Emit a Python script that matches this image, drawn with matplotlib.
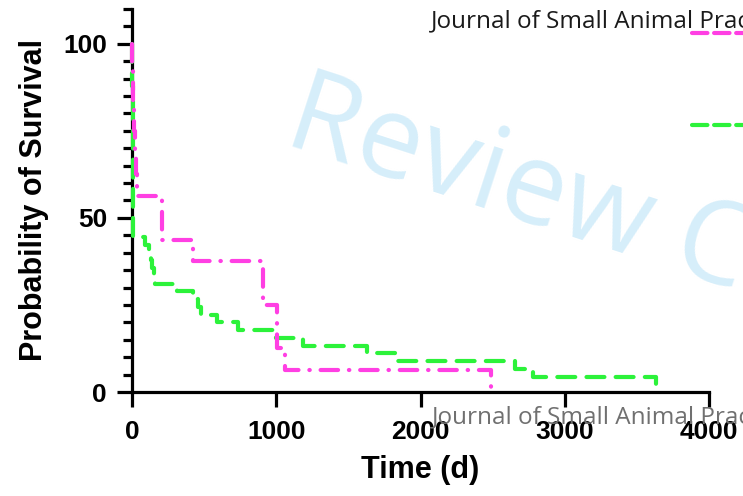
import matplotlib
matplotlib.use("Agg")
import matplotlib.pyplot as plt
from matplotlib.lines import Line2D
from matplotlib.ticker import MultipleLocator

plt.rcParams['font.family'] = ['Liberation Sans', 'DejaVu Sans']

# survival curves (time in days, survival in %)
magenta_t = [0, 3, 6, 10, 15, 20, 27, 35, 210, 425, 910, 1005, 1060, 2486]
magenta_s = [100, 93.75, 87.5, 81.25, 75, 68.75, 62.5, 56.25, 43.75, 37.5, 25, 12.5, 6.25, 0]

green_t = [0, 2, 4, 6, 8, 10, 90, 115, 130, 140, 150, 160, 310, 420, 460, 480,
           590, 735, 1000, 1185, 1630, 1820, 2655, 2780, 3636]
green_s = [100, 88, 76, 64, 52, 44.4, 42.2, 40.0, 37.8, 35.6, 33.3, 31.1, 28.9, 26.7,
           24.4, 22.2, 20.0, 17.8, 15.6, 13.3, 11.1, 8.9, 6.7, 4.4, 0]

x_ticks = [0, 1000, 2000, 3000, 4000]
y_ticks = [0, 50, 100]

MAGENTA = '#FF3FE3'
GREEN = '#2CF23A'
dashdot = (0, (4.2, 2.6, 0.1, 2.6))
dashed = (0, (4.3, 2.7))

fig = plt.figure(figsize=(7.43, 4.96), dpi=100)
ax = fig.add_axes([132 / 743, 1 - 392 / 496, (709 - 132) / 743, (392 - 9) / 496])

g, = ax.step(green_t, green_s, where='post', color=GREEN, lw=3, linestyle=dashed,
             dash_capstyle='round', solid_capstyle='round', clip_on=False, zorder=4)
m, = ax.step(magenta_t, magenta_s, where='post', color=MAGENTA, lw=3, linestyle=dashdot,
             dash_capstyle='round', solid_capstyle='round', clip_on=False, zorder=5)

ax.set_xlim(0, 4000)
ax.set_ylim(0, 110)
ax.set_xticks(x_ticks)
ax.set_yticks(y_ticks)
ax.yaxis.set_minor_locator(MultipleLocator(5))

for side in ['top', 'right']:
    ax.spines[side].set_visible(False)
for side in ['left', 'bottom']:
    ax.spines[side].set_linewidth(2.3)

ax.tick_params(axis='both', which='major', length=11, width=2.3, labelsize=19, pad=7)
ax.tick_params(axis='x', which='major', pad=9)
ax.tick_params(axis='y', which='minor', length=6.5, width=2.3)
for lab in ax.get_xticklabels() + ax.get_yticklabels():
    lab.set_fontweight('bold')

ax.set_xlabel('Time (d)', fontsize=22, fontweight='bold', labelpad=8)
ax.set_ylabel('Probability of Survival', fontsize=22, fontweight='bold', labelpad=10)

# legend samples (labels fall outside the cropped figure)
for handle, ypos in [(m, 1 - 35 / 496), (g, 1 - 127 / 496)]:
    h = Line2D([], [], color=handle.get_color(), lw=3, linestyle=handle.get_linestyle(),
               dash_capstyle='round')
    fig.legend([h], [''], loc='center left', bbox_to_anchor=(692 / 743, ypos),
               frameon=False, handlelength=3, borderpad=0, borderaxespad=0, fontsize=19)

# watermark and journal banners
fig.text(282 / 743, 1 - 142 / 496, 'Review Copy', fontsize=83, color='#D6EEFA',
         family='Open Sans', rotation=-18, rotation_mode='anchor',
         ha='left', va='baseline', zorder=0)
fig.text(431 / 743, 1 - 27 / 496, 'Journal of Small Animal Practice', fontsize=17.5,
         color='#1a1a1a', family='Open Sans', ha='left', va='baseline')
fig.text(432 / 743, 1 - 423 / 496, 'Journal of Small Animal Practice', fontsize=17.5,
         color='#707070', family='Open Sans', ha='left', va='baseline', zorder=10)

fig.savefig('out.png', dpi=100)
